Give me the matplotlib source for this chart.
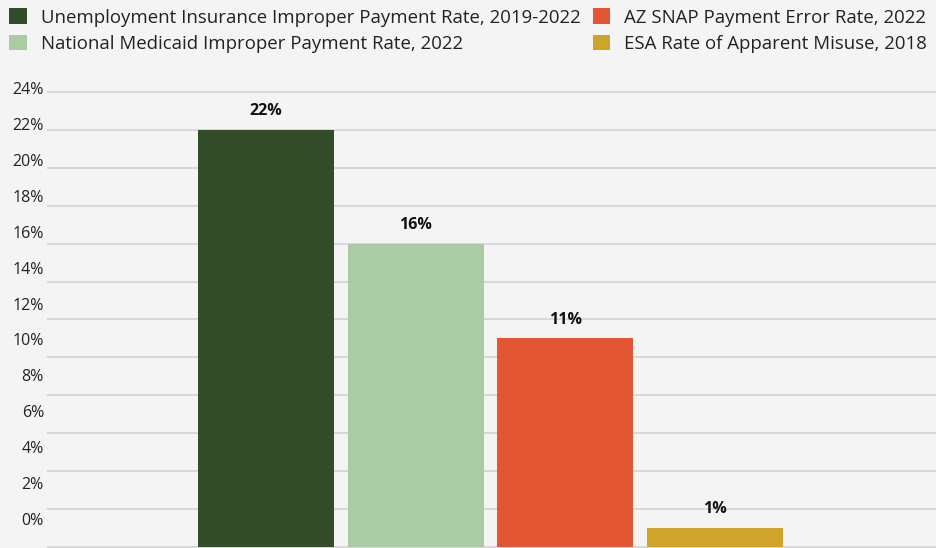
import matplotlib
matplotlib.use('Agg')
from matplotlib import pyplot as plt
from matplotlib.patches import Patch

plt.rcParams['font.family'] = ['Open Sans', 'DejaVu Sans']

# data
programs = ['Unemployment Insurance Improper Payment Rate, 2019-2022',
            'National Medicaid Improper Payment Rate, 2022',
            'AZ SNAP Payment Error Rate, 2022',
            'ESA Rate of Apparent Misuse, 2018']
rates = [22, 16, 11, 1]
bar_labels = ['22%', '16%', '11%', '1%']
y_ticks = [0, 2, 4, 6, 8, 10, 12, 14, 16, 18, 20, 22, 24]
y_tick_labels = ['0%', '2%', '4%', '6%', '8%', '10%', '12%', '14%',
                 '16%', '18%', '20%', '22%', '24%']

colors = ['#344d29', '#aacba4', '#e35634', '#cea52a']
BG = '#f4f4f4'

W, H = 936, 548
fig = plt.figure(figsize=(W / 100, H / 100), dpi=100, facecolor=BG)
ax = fig.add_axes([47 / W, 0, 1 - 47 / W, 457 / H], facecolor=BG)

x = list(range(len(rates)))
ax.bar(x, rates, width=0.908, color=colors, zorder=3)

ax.set_xlim(-1.463, 3 + 1.477)
ax.set_ylim(-0.05, 24.05)

ax.set_yticks(y_ticks)
ax.set_yticklabels([])
ax.tick_params(left=False, bottom=False, labelbottom=False)
ax.grid(axis='y', color='#d8d8d8', linewidth=1.4, zorder=0)
ax.grid(axis='x', visible=False)
for s in ax.spines.values():
    s.set_visible(False)

# tick labels sit a little above their gridlines
for v, lab in zip(y_ticks, y_tick_labels):
    ax.text(-3 / (W - 47), 1.37 + v * 0.947, lab,
            transform=ax.get_yaxis_transform(),
            ha='right', va='center', fontsize=11.5, color='#222222')

for xi, r, lab in zip(x, rates, bar_labels):
    ax.annotate(lab, (xi, r), xytext=(0, 13.6), textcoords='offset points',
                ha='center', va='center', fontsize=11.5, fontweight='bold',
                color='#111111')

handles = [Patch(facecolor=c, edgecolor='none') for c in colors]
fig.legend(handles, programs, ncol=2, loc='upper left',
           bbox_to_anchor=(2 / W, 1 - 1 / H), frameon=False,
           fontsize=13.4, handlelength=0.93, handleheight=0.93,
           handletextpad=0.75, columnspacing=0.68, labelspacing=0.42,
           borderaxespad=0, labelcolor='#222222')

fig.savefig('out.png', dpi=100, facecolor=BG)
